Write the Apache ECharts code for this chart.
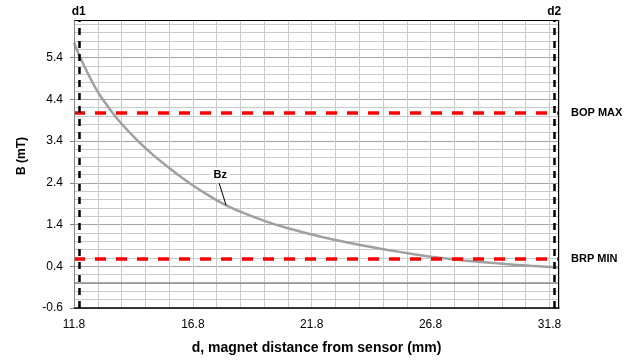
<!DOCTYPE html>
<html><head><meta charset="utf-8">
<script src="https://cdn.jsdelivr.net/npm/echarts@6/dist/echarts.min.js"></script>
<style>html,body{margin:0;padding:0;background:#fff}#c{width:641px;height:361px}</style>
</head><body><div id="c"></div>
<script>
// ---- data ----
const distance = [11.8, 12.0, 12.4, 12.8, 13.3, 13.7, 14.4, 15.1, 15.7, 16.2, 16.9, 17.6, 18.2, 19.0, 19.9, 20.8, 21.8, 22.7, 24.0, 25.0, 26.1, 27.1, 28.2, 29.6, 31.0, 32.2];
const bz       = [5.76, 5.48, 5.00, 4.58, 4.17, 3.88, 3.45, 3.08, 2.80, 2.58, 2.30, 2.05, 1.86, 1.66, 1.47, 1.31, 1.16, 1.04, 0.89, 0.79, 0.69, 0.61, 0.54, 0.47, 0.41, 0.37];
const xTickValues = [11.8, 16.8, 21.8, 26.8, 31.8];
const yTickValues = [-0.6, 0.4, 1.4, 2.4, 3.4, 4.4, 5.4];
const bopMax = 4.08, brpMin = 0.58;
const d1 = 12.0, d2 = 32.0;
const xMin = 11.8, xMax = 32.2, yMin = -0.6, yMax = 6.3;
const bzLabelIndex = 12;
const seriesName = 'Bz';

// offset so that ticks start at 0 (interval counted from min)
const X0 = xMin, Y0 = yMin;
const FONT = '"Liberation Sans", Arial, sans-serif';

const chart = echarts.init(document.getElementById('c'), null, {renderer: 'canvas'});
const majorC = '#a6a6a6', minorC = '#cacaca';
const yTop = +(yMax - Y0).toFixed(4);

const option = {
  animation: false,
  backgroundColor: '#fff',
  grid: {left: 74, top: 20, width: 485, height: 288, containLabel: false, outerBoundsMode: 'none', show: false},
  xAxis: {
    type: 'value', min: 0, max: +(xMax - X0).toFixed(4), interval: 1,
    axisLine: {show: true, onZero: false, lineStyle: {color: '#000', width: 1.5}},
    axisTick: {show: false},
    axisLabel: {
      customValues: xTickValues.map(v => +(v - X0).toFixed(4)),
      formatter: v => (v + X0).toFixed(1),
      color: '#000', fontSize: 12, fontFamily: FONT, margin: 11
    },
    splitLine: {show: true, lineStyle: {color: minorC, width: 1}}
  },
  yAxis: [{
    type: 'value', min: 0, max: yTop, interval: 0.2,
    axisLine: {show: true, onZero: false, lineStyle: {color: '#868686', width: 1}},
    axisTick: {show: true, length: 4, customValues: yTickValues.map(v => +(v - Y0).toFixed(4)), lineStyle: {color: '#868686'}},
    axisLabel: {
      customValues: yTickValues.map(v => +(v - Y0).toFixed(4)),
      formatter: v => (v + Y0).toFixed(1),
      color: '#000', fontSize: 12, fontFamily: FONT, margin: 11
    },
    splitLine: {show: false}
  }, {
    type: 'value', min: 0, max: yTop, interval: 0.2, position: 'left',
    axisLine: {show: false}, axisTick: {show: false}, axisLabel: {show: false},
    splitLine: {show: true, lineStyle: {color: [majorC, minorC, minorC, minorC, minorC], width: 1}}
  }],
  series: [
    {
      type: 'line', name: 'zero', data: [], z: 1, silent: true,
      markLine: {silent: true, symbol: ['none', 'none'], label: {show: false},
        lineStyle: {color: '#8a8a8a', width: 1.5, type: 'solid'},
        data: [{yAxis: 0 - Y0}]}
    },
    {
      type: 'line', name: seriesName, z: 2, smooth: 0.3, showSymbol: false, silent: true,
      lineStyle: {color: '#a0a0a0', width: 2.5},
      data: distance.map((d, i) => [d - X0, bz[i] - Y0])
    },
    {
      type: 'line', name: 'limits', data: [], z: 3, silent: true,
      markLine: {silent: true, symbol: ['none', 'none'],
        lineStyle: {color: '#ff0000', width: 3.5, type: [11, 10]},
        label: {show: true, position: 'end', distance: 12, color: '#000', fontWeight: 'bold', fontSize: 11, fontFamily: FONT,
          formatter: p => p.name},
        data: [{name: 'BOP MAX', yAxis: bopMax - Y0}, {name: 'BRP MIN', yAxis: brpMin - Y0}]}
    },
    {
      type: 'line', name: 'dlines', data: [], z: 4, silent: true,
      markLine: {silent: true, symbol: ['none', 'none'],
        lineStyle: {color: '#000', width: 2.5, type: [7, 6]},
        label: {show: true, position: 'end', distance: 2, color: '#000', fontWeight: 'bold', fontSize: 12, fontFamily: FONT,
          formatter: p => p.name},
        data: [{name: 'd1', xAxis: d1 - X0}, {name: 'd2', xAxis: d2 - X0}]}
    }
  ]
};
chart.setOption(option);

const tl = chart.convertToPixel({gridIndex: 0}, [0, yTop]);
const br = chart.convertToPixel({gridIndex: 0}, [xMax - X0, 0]);
const L = Math.round(tl[0]) + 0.5, T = Math.round(tl[1]) + 0.5, R = Math.round(br[0]) - 0.5, B = Math.round(br[1]);
const anchor = chart.convertToPixel({gridIndex: 0}, [distance[bzLabelIndex] - X0, bz[bzLabelIndex] - Y0]);

chart.setOption({
  graphic: [
    {type: 'polyline', z: 100, silent: true, shape: {points: [[L, B], [L, T], [R, T], [R, B]]},
      style: {stroke: '#000', lineWidth: 1, fill: null}},
    {type: 'line', z: 100, silent: true, shape: {x1: L, y1: T, x2: L, y2: B}, style: {stroke: '#868686', lineWidth: 1}},
    {type: 'line', z: 100, silent: true,
      shape: {x1: anchor[0] - 7, y1: anchor[1] - 22, x2: anchor[0], y2: anchor[1]},
      style: {stroke: '#000', lineWidth: 1}},
    {type: 'text', z: 100, silent: true, x: anchor[0] - 6, y: anchor[1] - 30,
      style: {text: seriesName, fill: '#000', font: 'bold 11px ' + FONT, align: 'center', verticalAlign: 'middle',
        backgroundColor: '#fff', padding: [2, 3, 2, 3]}},
    {type: 'text', z: 100, silent: true, x: 22, y: 156, rotation: Math.PI / 2,
      style: {text: 'B (mT)', fill: '#000', font: 'bold 12px ' + FONT, align: 'center', verticalAlign: 'middle'}},
    {type: 'text', z: 100, silent: true, x: 316.5, y: 348,
      style: {text: 'd, magnet distance from sensor (mm)', fill: '#000', font: 'bold 14px ' + FONT, align: 'center', verticalAlign: 'middle'}}
  ]
});
</script>
</body></html>
